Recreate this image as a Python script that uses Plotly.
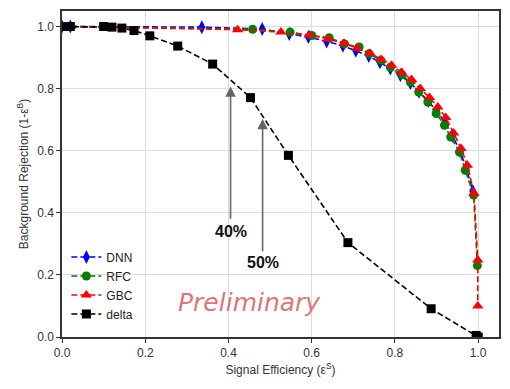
import plotly.graph_objects as go

# ROC-style curves: signal efficiency vs background rejection
dnn_x = [0.0, 0.02, 0.336, 0.481, 0.546, 0.592, 0.636, 0.675, 0.706, 0.737, 0.764, 0.789, 0.813,
         0.837, 0.858, 0.880, 0.900, 0.920, 0.938, 0.956, 0.971, 0.987]
dnn_y = [1.0, 1.0, 0.998, 0.992, 0.976, 0.966, 0.952, 0.938, 0.922, 0.905, 0.885, 0.865, 0.843,
         0.818, 0.790, 0.760, 0.728, 0.692, 0.648, 0.600, 0.545, 0.470]

rfc_x = [0.0, 0.02, 0.458, 0.548, 0.600, 0.642, 0.679, 0.714, 0.738, 0.766, 0.789, 0.816, 0.837,
         0.857, 0.879, 0.899, 0.919, 0.934, 0.955, 0.969, 0.989, 0.998]
rfc_y = [1.0, 1.0, 0.991, 0.982, 0.971, 0.964, 0.944, 0.934, 0.912, 0.891, 0.869, 0.845, 0.821,
         0.789, 0.757, 0.720, 0.682, 0.644, 0.596, 0.537, 0.457, 0.230]

gbc_x = [0.0, 0.02, 0.422, 0.526, 0.594, 0.639, 0.678, 0.709, 0.740, 0.767, 0.792, 0.816, 0.840,
         0.861, 0.883, 0.903, 0.922, 0.941, 0.959, 0.974, 0.990, 0.999, 0.999]
gbc_y = [1.0, 1.0, 0.990, 0.982, 0.973, 0.960, 0.946, 0.930, 0.914, 0.894, 0.875, 0.853, 0.829,
         0.800, 0.771, 0.741, 0.707, 0.657, 0.607, 0.553, 0.463, 0.248, 0.100]

delta_x = [0.005, 0.02, 0.10, 0.12, 0.144, 0.173, 0.211, 0.278, 0.362, 0.453, 0.544, 0.687,
           0.887, 0.995, 1.0]
delta_y = [1.0, 1.0, 1.0, 0.998, 0.995, 0.987, 0.970, 0.937, 0.879, 0.771, 0.585, 0.304,
           0.091, 0.005, 0.0]

series = [
    ("DNN", dnn_x, dnn_y, "#0000ff", "diamond-tall", 10),
    ("RFC", rfc_x, rfc_y, "#008000", "circle", 9),
    ("GBC", gbc_x, gbc_y, "#ff0000", "triangle-up", 10),
    ("delta", delta_x, delta_y, "#000000", "square", 9),
]

# working-point arrows: (efficiency, tip rejection, tail rejection, label, label y)
arrow_x = [0.405, 0.482]
arrow_tip = [0.807, 0.703]
arrow_tail = [0.376, 0.271]
arrow_text = ["40%", "50%"]
arrow_text_y = [0.339, 0.239]

fig = go.Figure()
for name, xs, ys, color, symbol, size in series:
    fig.add_trace(go.Scatter(
        x=xs, y=ys, name=name, mode="lines+markers",
        line=dict(color=color, width=1.6, dash="6px,3px"),
        marker=dict(symbol=symbol, size=size, color=color, line=dict(width=0)),
    ))

for xa, tip, tail, txt, ty in zip(arrow_x, arrow_tip, arrow_tail, arrow_text, arrow_text_y):
    fig.add_annotation(x=xa, y=tip, ax=xa, ay=tail, xref="x", yref="y", axref="x", ayref="y",
                       text="", showarrow=True, arrowhead=2, arrowsize=1.3, arrowwidth=1.6,
                       arrowcolor="#666666")
    fig.add_annotation(x=xa, y=ty, xref="x", yref="y", text="<b>" + txt + "</b>",
                       showarrow=False, font=dict(family="Liberation Sans, Arial", size=16,
                                                  color="#111111"))

fig.add_annotation(x=0.45, y=0.11, xref="x", yref="y", text="Preliminary", showarrow=False,
                   font=dict(family="DejaVu Sans", size=25, color="rgba(218,90,95,0.85)",
                             style="italic"))

axis_common = dict(
    showline=True, mirror=True, linecolor="#333333", linewidth=1.5,
    ticks="outside", ticklen=4, tickcolor="#333333", tickwidth=1.2,
    showgrid=True, gridcolor="#dcdcdc", gridwidth=1, zeroline=False,
    tickfont=dict(family="Liberation Sans, Arial", size=12, color="#333333"),
)

fig.update_layout(
    width=510, height=389,
    margin=dict(l=62, r=9, t=10, b=52),
    paper_bgcolor="white", plot_bgcolor="white",
    xaxis=dict(range=[0.0, 1.05], tickvals=[0, 0.2, 0.4, 0.6, 0.8, 1.0], tickformat=".1f",
               title=dict(text="Signal Efficiency (ε<sup>S</sup>)", standoff=6,
                          font=dict(family="Liberation Sans, Arial", size=12, color="#333333")),
               **axis_common),
    yaxis=dict(range=[0.0, 1.05], tickvals=[0, 0.2, 0.4, 0.6, 0.8, 1.0], tickformat=".1f",
               title=dict(text="Background Rejection (1-ε<sup>B</sup>)", standoff=6,
                          font=dict(family="Liberation Sans, Arial", size=12, color="#333333")),
               **axis_common),
    legend=dict(x=0.01, y=0.29, xanchor="left", yanchor="top", bgcolor="rgba(0,0,0,0)",
                font=dict(family="Liberation Sans, Arial", size=12, color="#222222"),
                itemwidth=30, tracegroupgap=0),
    showlegend=True,
)

fig.write_html("out.html")
